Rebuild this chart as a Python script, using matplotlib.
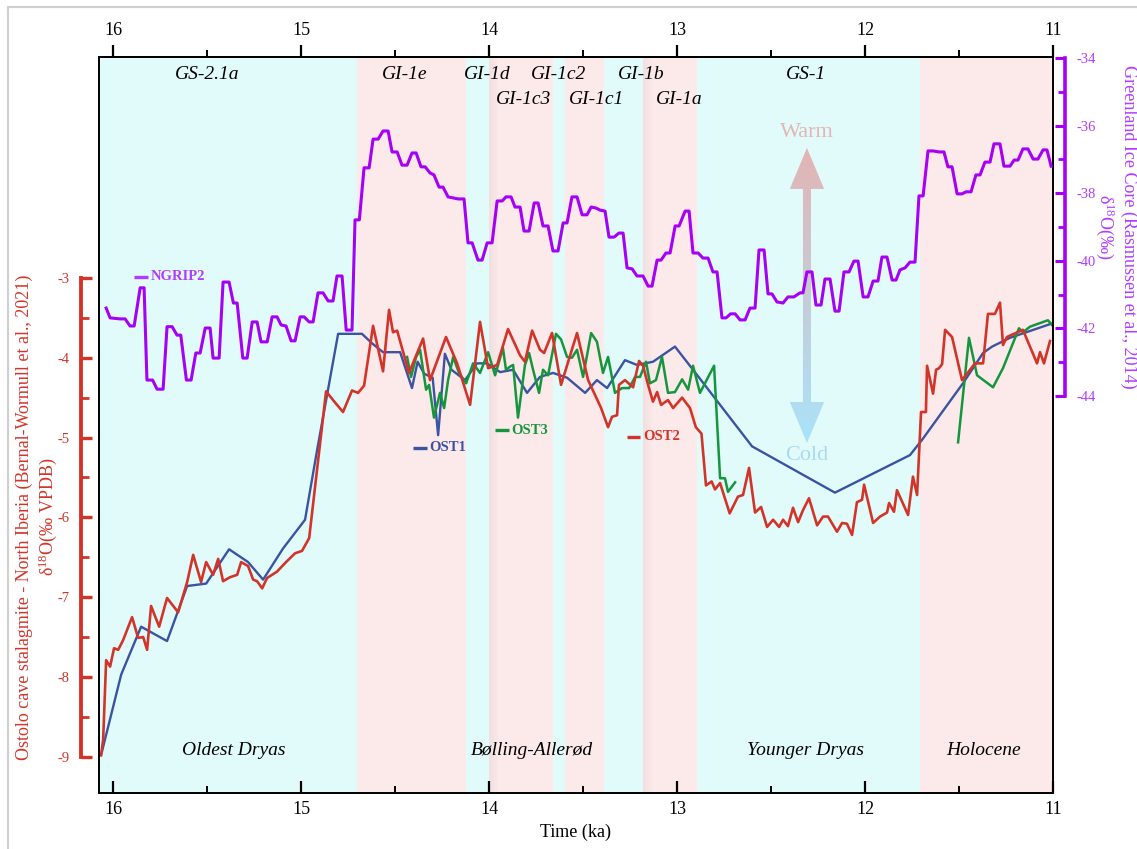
import numpy as np
import matplotlib
matplotlib.use("Agg")
import matplotlib.pyplot as plt
from matplotlib.patches import Polygon
from matplotlib.lines import Line2D
from matplotlib.ticker import MultipleLocator

plt.rcParams["font.family"] = ["Liberation Serif", "DejaVu Serif"]
plt.rcParams["mathtext.fontset"] = "custom"
plt.rcParams["mathtext.rm"] = "Liberation Serif"
plt.rcParams["mathtext.it"] = "Liberation Serif:italic"
plt.rcParams["axes.unicode_minus"] = False

# ── NGRIP2 d18O (right axis), ages in ka b2k ────────────────────────────────
ngrip_age = [
    16.037, 16.016, 15.963, 15.936, 15.910, 15.888, 15.856, 15.835, 15.820, 15.790,
    15.766, 15.734, 15.713, 15.686, 15.660, 15.640, 15.610, 15.585, 15.560, 15.537,
    15.510, 15.484, 15.468, 15.436, 15.415, 15.383, 15.360, 15.340, 15.310, 15.287,
    15.260, 15.234, 15.213, 15.180, 15.154, 15.128, 15.106, 15.080, 15.053, 15.032,
    15.005, 14.984, 14.957, 14.936, 14.910, 14.883, 14.856, 14.830, 14.809, 14.782,
    14.760, 14.729, 14.713, 14.690, 14.665, 14.638, 14.617, 14.590, 14.564, 14.537,
    14.516, 14.489, 14.463, 14.436, 14.410, 14.388, 14.362, 14.340, 14.314, 14.293,
    14.266, 14.245, 14.218, 14.191, 14.165, 14.133, 14.112, 14.090, 14.059, 14.037,
    14.010, 13.984, 13.957, 13.930, 13.910, 13.883, 13.862, 13.835, 13.814, 13.787,
    13.760, 13.739, 13.713, 13.686, 13.660, 13.633, 13.606, 13.585, 13.559, 13.532,
    13.505, 13.479, 13.457, 13.431, 13.410, 13.383, 13.362, 13.335, 13.309, 13.287,
    13.266, 13.239, 13.213, 13.181, 13.154, 13.133, 13.106, 13.085, 13.059, 13.037,
    13.010, 12.989, 12.957, 12.936, 12.915, 12.888, 12.862, 12.835, 12.809, 12.787,
    12.761, 12.739, 12.715, 12.691, 12.665, 12.638, 12.612, 12.585, 12.564, 12.537,
    12.516, 12.495, 12.468, 12.436, 12.410, 12.378, 12.346, 12.330, 12.309, 12.282,
    12.261, 12.234, 12.213, 12.186, 12.160, 12.138, 12.112, 12.085, 12.059, 12.037,
    12.010, 11.984, 11.957, 11.931, 11.910, 11.883, 11.856, 11.835, 11.814, 11.787,
    11.761, 11.734, 11.713, 11.691, 11.665, 11.638, 11.606, 11.580, 11.559, 11.537,
    11.510, 11.484, 11.463, 11.436, 11.410, 11.388, 11.362, 11.335, 11.314, 11.282,
    11.261, 11.229, 11.207, 11.186, 11.160, 11.133, 11.106, 11.080, 11.053, 11.032,
    11.010,
]
ngrip_d18o = [
    -41.40, -41.69, -41.72, -41.72, -41.93, -41.93, -40.80, -40.80, -43.53, -43.53,
    -43.80, -43.80, -41.95, -41.95, -42.20, -42.20, -43.53, -43.53, -42.73, -42.73,
    -41.99, -41.99, -42.88, -42.88, -40.63, -40.63, -41.25, -41.25, -42.88, -42.88,
    -41.81, -41.81, -42.40, -42.40, -41.66, -41.66, -41.90, -41.93, -42.37, -42.37,
    -41.66, -41.66, -41.81, -41.81, -40.95, -40.95, -41.19, -41.19, -40.45, -40.45,
    -42.05, -42.05, -38.79, -38.79, -37.25, -37.25, -36.40, -36.40, -36.16, -36.16,
    -36.78, -36.78, -37.17, -37.17, -36.81, -36.81, -37.22, -37.22, -37.40, -37.46,
    -37.82, -37.82, -38.11, -38.14, -38.17, -38.17, -39.47, -39.47, -39.98, -39.98,
    -39.47, -39.47, -38.23, -38.23, -38.11, -38.11, -38.41, -38.41, -39.12, -39.12,
    -38.29, -38.29, -38.97, -38.97, -39.71, -39.71, -38.88, -38.88, -38.11, -38.11,
    -38.64, -38.64, -38.41, -38.44, -38.50, -38.53, -39.30, -39.30, -39.18, -39.18,
    -40.21, -40.24, -40.45, -40.45, -40.75, -40.75, -39.98, -39.98, -39.77, -39.77,
    -38.97, -38.97, -38.53, -38.53, -39.77, -39.77, -39.92, -39.92, -40.33, -40.33,
    -41.69, -41.69, -41.57, -41.57, -41.75, -41.75, -41.40, -41.40, -39.68, -39.68,
    -40.98, -40.98, -41.22, -41.25, -41.07, -41.07, -40.95, -40.95, -40.33, -40.33,
    -41.31, -41.31, -40.54, -40.54, -41.49, -41.49, -40.33, -40.33, -40.01, -40.01,
    -41.07, -41.07, -40.60, -40.60, -39.89, -39.89, -40.57, -40.57, -40.27, -40.21,
    -40.04, -40.04, -38.08, -38.08, -36.75, -36.75, -36.78, -36.78, -37.22, -37.22,
    -38.02, -38.02, -37.96, -37.96, -37.46, -37.46, -37.08, -37.08, -36.54, -36.54,
    -37.20, -37.20, -37.02, -37.02, -36.69, -36.69, -36.99, -36.99, -36.72, -36.72,
    -37.20,
]

# ── Ostolo stalagmites d18O (left axis) ─────────────────────────────────────
ost1_age = [
    16.064, 15.957, 15.851, 15.713, 15.606, 15.505, 15.383, 15.282, 15.202, 15.096,
    14.979, 14.915, 14.803, 14.676, 14.622, 14.564, 14.473, 14.410, 14.380, 14.345,
    14.300, 14.271, 14.235, 14.200, 14.128, 14.064, 14.011, 13.941, 13.872, 13.798,
    13.729, 13.660, 13.585, 13.489, 13.426, 13.372, 13.277, 13.213, 13.128, 13.011,
    12.915, 12.601, 12.160, 11.761, 11.697, 11.479, 11.372, 11.324, 11.229, 11.005,
]
ost1_d18o = [
    -8.98, -7.97, -7.37, -7.55, -6.86, -6.83, -6.40, -6.56, -6.78, -6.39,
    -6.03, -5.16, -3.70, -3.70, -3.82, -3.93, -3.93, -4.38, -4.05, -4.20,
    -4.25, -4.97, -3.95, -4.15, -4.28, -4.07, -4.07, -4.18, -4.15, -4.44,
    -4.24, -4.19, -4.25, -4.44, -4.28, -4.38, -4.03, -4.09, -4.05, -3.86,
    -4.15, -5.11, -5.69, -5.22, -5.03, -4.32, -3.94, -3.86, -3.75, -3.57,
]

ost2_age = [
    16.064, 16.053, 16.037, 16.016, 15.995, 15.973, 15.947, 15.899, 15.867, 15.840,
    15.819, 15.798, 15.755, 15.713, 15.654, 15.606, 15.574, 15.532, 15.505, 15.468,
    15.441, 15.415, 15.378, 15.340, 15.319, 15.282, 15.255, 15.234, 15.207, 15.181,
    15.128, 15.080, 15.032, 14.995, 14.957, 14.867, 14.830, 14.777, 14.729, 14.697,
    14.665, 14.617, 14.564, 14.532, 14.511, 14.489, 14.426, 14.351, 14.314, 14.229,
    14.170, 14.101, 14.048, 14.005, 13.957, 13.899, 13.835, 13.809, 13.771, 13.729,
    13.707, 13.665, 13.617, 13.532, 13.473, 13.404, 13.367, 13.346, 13.319, 13.309,
    13.277, 13.234, 13.202, 13.181, 13.154, 13.128, 13.106, 13.085, 13.048, 13.021,
    12.973, 12.931, 12.900, 12.870, 12.846, 12.816, 12.798, 12.771, 12.720, 12.676,
    12.649, 12.617, 12.585, 12.553, 12.521, 12.489, 12.457, 12.436, 12.410, 12.383,
    12.356, 12.330, 12.298, 12.255, 12.223, 12.197, 12.149, 12.122, 12.096, 12.069,
    12.043, 12.016, 12.005, 11.957, 11.920, 11.883, 11.872, 11.846, 11.830, 11.771,
    11.745, 11.723, 11.702, 11.676, 11.670, 11.638, 11.622, 11.606, 11.590, 11.574,
    11.537, 11.484, 11.415, 11.372, 11.346, 11.309, 11.282, 11.266, 11.245, 11.160,
    11.085, 11.069, 11.048, 11.016,
]
ost2_d18o = [
    -8.98, -8.79, -7.79, -7.87, -7.64, -7.66, -7.54, -7.25, -7.51, -7.50,
    -7.66, -7.11, -7.37, -7.01, -7.19, -6.81, -6.47, -6.81, -6.56, -6.72,
    -6.52, -6.80, -6.75, -6.72, -6.56, -6.61, -6.78, -6.80, -6.89, -6.76,
    -6.68, -6.56, -6.45, -6.42, -6.26, -4.42, -4.53, -4.68, -4.41, -4.44,
    -4.35, -3.60, -4.17, -3.40, -3.68, -3.66, -4.19, -3.76, -4.28, -3.74,
    -4.07, -4.59, -3.55, -4.13, -4.09, -3.64, -3.97, -4.05, -3.66, -3.90,
    -3.94, -3.69, -4.34, -3.69, -4.28, -4.63, -4.87, -4.74, -4.72, -4.34,
    -4.28, -4.37, -4.04, -4.10, -4.34, -4.55, -4.43, -4.59, -4.53, -4.63,
    -4.50, -4.63, -4.87, -4.95, -5.60, -5.55, -5.65, -5.57, -5.95, -5.74,
    -5.72, -5.38, -5.94, -5.87, -6.12, -6.03, -6.12, -6.03, -6.11, -5.88,
    -6.06, -5.91, -5.76, -6.10, -5.99, -5.99, -6.18, -6.07, -6.08, -6.22,
    -5.81, -5.78, -5.59, -6.07, -5.99, -5.94, -5.82, -5.93, -5.66, -5.97,
    -5.49, -5.72, -4.68, -4.68, -4.10, -4.45, -4.15, -4.13, -4.08, -3.65,
    -3.74, -4.28, -4.07, -4.07, -3.45, -3.45, -3.31, -3.84, -3.74, -3.65,
    -4.07, -3.93, -4.07, -3.79,
]

ost3_age = [
    14.436, 14.415, 14.388, 14.367, 14.351, 14.335, 14.319, 14.293, 14.261, 14.239,
    14.218, 14.191, 14.160, 14.122, 14.085, 14.048, 14.005, 13.968, 13.926, 13.910,
    13.888, 13.872, 13.846, 13.809, 13.787, 13.766, 13.734, 13.713, 13.686, 13.644,
    13.617, 13.585, 13.559, 13.532, 13.500, 13.457, 13.426, 13.394, 13.367, 13.330,
    13.293, 13.255, 13.223, 13.197, 13.165, 13.144, 13.112, 13.080, 13.048, 13.011,
    12.973, 12.941, 12.915, 12.878, 12.803, 12.771, 12.745, 12.729, 12.691, np.nan,
    11.505, 11.447, 11.404, 11.319, 11.266, 11.181, 11.160, 11.122, 11.027, 11.005,
]
ost3_d18o = [
    -3.99, -4.24, -3.99, -3.90, -4.15, -4.40, -4.34, -4.75, -4.44, -4.63,
    -4.28, -3.99, -4.19, -4.32, -4.07, -4.19, -3.93, -4.22, -3.88, -4.15,
    -4.11, -4.09, -4.75, -4.09, -3.94, -4.15, -4.44, -4.15, -4.22, -3.70,
    -3.77, -3.99, -4.00, -3.90, -4.24, -3.69, -3.80, -4.19, -3.99, -4.44,
    -4.38, -4.38, -4.24, -4.24, -4.05, -4.32, -4.28, -3.99, -4.44, -4.43,
    -4.27, -4.40, -4.10, -4.44, -4.10, -5.51, -5.51, -5.68, -5.56, np.nan,
    -5.06, -3.75, -4.22, -4.37, -4.13, -3.63, -3.68, -3.61, -3.53, -3.59,
]

# ── climate periods (boundaries in ka) ──────────────────────────────────────
band_edges = [16.075, 14.70, 14.125, 14.0, 13.66, 13.595, 13.39, 13.18, 12.895, 11.71, 11.0]
band_warm = [False, True, False, True, False, True, False, True, False, True]

stage_names = ["GS-2.1a", "GI-1e", "GI-1d", "GI-1c2", "GI-1b", "GS-1",
               "GI-1c3", "GI-1c1", "GI-1a"]
stage_x = [15.50, 14.45, 14.01, 13.63, 13.19, 12.314, 13.818, 13.428, 12.99]
stage_row = [0, 0, 0, 0, 0, 0, 1, 1, 1]

period_names = ["Oldest Dryas", "Bølling-Allerød", "Younger Dryas", "Holocene"]
period_x = [15.36, 13.771, 12.314, 11.37]

PURPLE = "#a600f5"
PURPLE_TXT = "#b13cff"
RED = "#d3342a"
BLUE = "#3a53a2"
GREEN = "#15963d"
CYAN_BG = "#e1fbfb"
PINK_BG = "#fce9e9"

W, H = 1137, 849
fig = plt.figure(figsize=(W / 100, H / 100), dpi=100)
ax = fig.add_axes([99 / W, 1 - 793 / H, 954 / W, 736 / H])

# ── background bands ────────────────────────────────────────────────────────
for i, warm in enumerate(band_warm):
    ax.axvspan(band_edges[i], band_edges[i + 1], color=PINK_BG if warm else CYAN_BG,
               lw=0, zorder=0)
# soft greyish seams at two transitions
for x0 in (14.0, 13.18):
    for k in range(6):
        ax.axvspan(x0 - k * 0.008, x0 - (k + 1) * 0.008, color="#e8d6d6",
                   alpha=0.45 - 0.07 * k, lw=0, zorder=0.5)

# ── warm / cold arrow (axes fraction) ───────────────────────────────────────
cx, top, bot = 0.7421, 0.8764, 0.4755
hw, sw, hl = 0.0180, 0.0042, 0.0557
verts = [(cx, top), (cx + hw, top - hl), (cx + sw, top - hl), (cx + sw, bot + hl),
         (cx + hw, bot + hl), (cx, bot), (cx - hw, bot + hl), (cx - sw, bot + hl),
         (cx - sw, top - hl), (cx - hw, top - hl)]
arrow = Polygon(verts, closed=True, transform=ax.transAxes, fc="none", ec="none")
ax.add_patch(arrow)
c_top = np.array([227, 180, 180]) / 255
c_bot = np.array([170, 227, 250]) / 255
t = np.linspace(0, 1, 256)[:, None]
grad = (c_top[None, :] * (1 - t) + c_bot[None, :] * t)[:, None, :]
im = ax.imshow(grad, extent=(cx - hw, cx + hw, bot, top), transform=ax.transAxes,
               aspect="auto", origin="upper", zorder=1)
im.set_clip_path(arrow)
ax.text(cx, 0.898, "Warm", transform=ax.transAxes, ha="center", va="center",
        fontsize=16, color="#e3b5b5", zorder=1)
ax.text(cx, 0.459, "Cold", transform=ax.transAxes, ha="center", va="center",
        fontsize=16, color="#a9d9f3", zorder=1)

# ── stalagmite records ──────────────────────────────────────────────────────
ax.plot(ost1_age, ost1_d18o, color=BLUE, lw=1.7, zorder=3)
ax.plot(ost3_age, ost3_d18o, color=GREEN, lw=1.8, zorder=4)
ax.plot(ost2_age, ost2_d18o, color=RED, lw=1.9, zorder=5)

ax.set_xlim(16.075, 11.0)
ax.set_ylim(-9.454, -0.231)

for sp in ax.spines.values():
    sp.set_color("black")
    sp.set_linewidth(1.4)
    sp.set_zorder(10)

ax.xaxis.set_major_locator(MultipleLocator(1))
ax.xaxis.set_minor_locator(MultipleLocator(0.5))
ax.tick_params(axis="x", which="major", direction="in", length=9, width=1.6,
               labelsize=13, pad=6)
ax.tick_params(axis="x", which="minor", direction="in", length=5, width=1.4)
ax.set_xlabel("Time (ka)", fontsize=13, labelpad=4)

secax = ax.secondary_xaxis("top")
secax.xaxis.set_major_locator(MultipleLocator(1))
secax.xaxis.set_minor_locator(MultipleLocator(0.5))
secax.tick_params(which="major", direction="out", length=9, width=1.6,
                  labelsize=13, pad=4)
secax.tick_params(which="minor", direction="out", length=5, width=1.4)
secax.spines["top"].set_linewidth(1.4)

# stage labels
xtr = ax.get_xaxis_transform()
for name, x, row in zip(stage_names, stage_x, stage_row):
    ax.text(x, 0.9764 if row == 0 else 0.9416, name, transform=xtr,
            ha="center", va="center", fontsize=14, style="italic", zorder=6)
for name, x in zip(period_names, period_x):
    ax.text(x, 0.0571, name, transform=xtr, ha="center", va="center",
            fontsize=14, style="italic", zorder=6)

# ── NGRIP on right axis ─────────────────────────────────────────────────────
ax_ng = ax.twinx()
ax_ng.plot(ngrip_age, ngrip_d18o, color=PURPLE, lw=2.2, zorder=5)
ax_ng.set_ylim(-55.75, -33.97)
for s in ("top", "bottom", "left"):
    ax_ng.spines[s].set_visible(False)
ax_ng.spines["right"].set_position(("outward", 8.6))
ax_ng.spines["right"].set_bounds(-44, -34)
ax_ng.spines["right"].set_color(PURPLE)
ax_ng.spines["right"].set_linewidth(2.6)
ax_ng.set_yticks([-34, -36, -38, -40, -42, -44])
ax_ng.set_yticks(np.arange(-43, -34, 2), minor=True)
ax_ng.tick_params(axis="y", which="both", left=False, labelleft=False,
                  right=True, labelright=True)
ax_ng.tick_params(axis="y", which="major", direction="in", length=7, width=2.2,
                  colors=PURPLE, labelsize=10.5, pad=8)
ax_ng.tick_params(axis="y", which="minor", direction="in", length=5, width=2.0,
                  colors=PURPLE)
for tl in ax_ng.get_yticklabels():
    tl.set_color(PURPLE_TXT)

# ── red left axis (offset) ──────────────────────────────────────────────────
ax_red = ax.twinx()
ax_red.set_ylim(ax.get_ylim())
ax_red.yaxis.tick_left()
for s in ("top", "bottom", "right"):
    ax_red.spines[s].set_visible(False)
ax_red.spines["left"].set_position(("outward", 13))
ax_red.spines["left"].set_bounds(-9, -3)
ax_red.spines["left"].set_color(RED)
ax_red.spines["left"].set_linewidth(2.8)
ax_red.set_yticks(np.arange(-9, -2.5, 1))
ax_red.set_yticks(np.arange(-8.5, -3, 1), minor=True)
ax_red.tick_params(axis="y", which="major", direction="in", length=8, width=2.4,
                   colors=RED, labelsize=10.5, pad=8, left=True, right=False,
                   labelright=False)
ax_red.tick_params(axis="y", which="minor", direction="in", length=6, width=2.0,
                   colors=RED, left=True, right=False)

# twinx() turns the host's left ticks back on, so switch them off here
ax.tick_params(axis="y", which="both", left=False, right=False,
               labelleft=False, labelright=False)

# ── series tags ─────────────────────────────────────────────────────────────
tags = [("NGRIP2", PURPLE_TXT, 0.0367, 0.7011),
        ("OST1", BLUE, 0.329, 0.4688),
        ("OST3", GREEN, 0.415, 0.4932),
        ("OST2", RED, 0.553, 0.4837)]
for name, col, x0, y0 in tags:
    ax.plot([x0, x0 + 0.0145], [y0, y0], transform=ax.transAxes, color=col,
            lw=2.4, zorder=7, solid_capstyle="butt")
    ax.text(x0 + 0.0175, y0, name, transform=ax.transAxes, color=col,
            fontsize=10.5, fontweight="bold", ha="left", va="center", zorder=7)

# ── axis titles ─────────────────────────────────────────────────────────────
yl = 1 - 517 / H
fig.text(24 / W, yl, "Ostolo cave stalagmite - North Iberia (Bernal-Wormull et al., 2021)",
         rotation=90, ha="center", va="center", fontsize=13, color=RED)
fig.text(48 / W, yl, r"δ$^{18}$O(‰ VPDB)", rotation=90, ha="center",
         va="center", fontsize=13, color=RED)
yr = 1 - 227 / H
fig.text(1129 / W, yr, "Greenland Ice Core (Rasmussen et al., 2014)",
         rotation=-90, ha="center", va="center", fontsize=13, color=PURPLE_TXT)
fig.text(1105 / W, yr, r"δ$^{18}$O(‰)", rotation=-90, ha="center",
         va="center", fontsize=13, color=PURPLE_TXT)

# thin grey frame of the original screenshot
fig.add_artist(Line2D([8 / W, 1], [1 - 7 / H, 1 - 7 / H], color="#cfcfcf", lw=1.5))
fig.add_artist(Line2D([8 / W, 8 / W], [0, 1 - 7 / H], color="#cfcfcf", lw=1.5))

fig.savefig("out.png", dpi=100)
